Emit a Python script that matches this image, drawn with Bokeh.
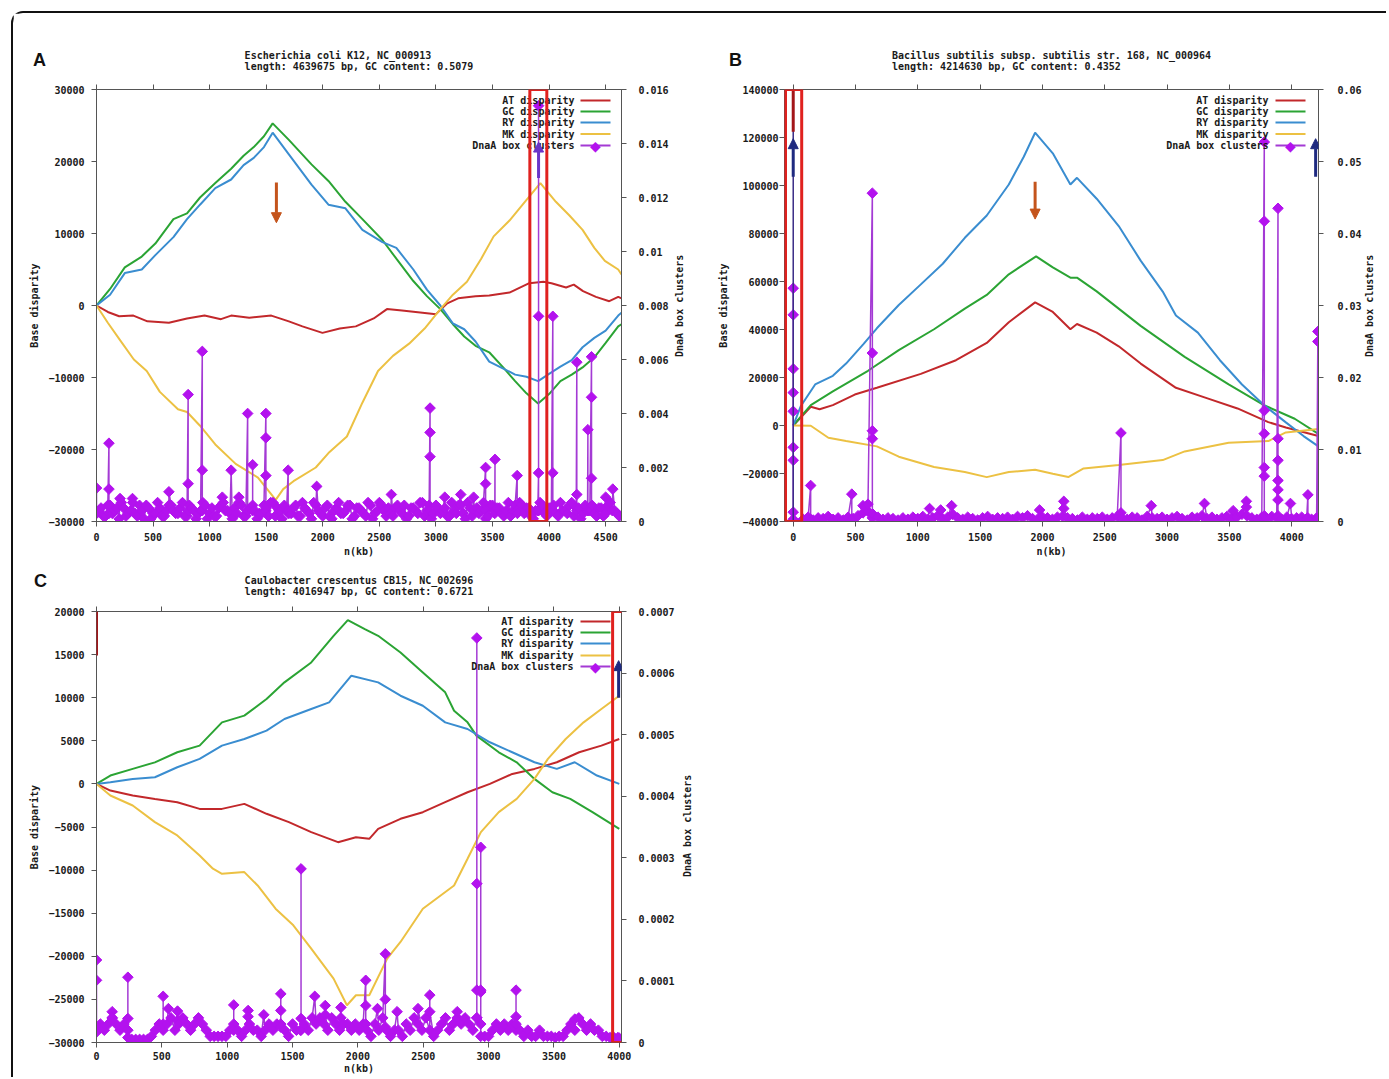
import numpy as np
from bokeh.plotting import figure
from bokeh.models import (Range1d, LinearAxis, Label, Arrow, NormalHead, BoxAnnotation, Span,
                          FixedTicker, BasicTickFormatter, CustomJSTickFormatter, GridBox, Div)
from bokeh.embed import file_html
from bokeh.resources import INLINE

# ---------------- colours ----------------
C_AT, C_GC, C_RY, C_MK = "#c2282b", "#2ba434", "#3a8dd0", "#ecc143"
C_DL, C_DM = "#a43ad4", "#b312ee"
MONO = "DejaVu Sans Mono"
SERIES = ["AT disparity", "GC disparity", "RY disparity", "MK disparity", "DnaA box clusters"]
Y2_LABEL = "DnaA box clusters"

# ================= Panel A : E. coli =================
a_title = ["Escherichia coli K12, NC_000913", "length: 4639675 bp, GC content: 0.5079"]
a_xticks = [0, 500, 1000, 1500, 2000, 2500, 3000, 3500, 4000, 4500]
a_yticks = [-30000, -20000, -10000, 0, 10000, 20000, 30000]
a_y2ticks = [0, 0.002, 0.004, 0.006, 0.008, 0.01, 0.012, 0.014, 0.016]

a_gc_x = [0, 120, 250, 400, 520, 680, 800, 915, 1050, 1190, 1300, 1390, 1480, 1557, 1700, 1900, 2050, 2200,
          2350, 2527, 2650, 2800, 2920, 3039, 3150, 3250, 3350, 3471, 3600, 3700, 3800, 3903, 4000, 4100,
          4200, 4296, 4400, 4500, 4611, 4640]
a_gc_y = [0, 2300, 5300, 6800, 8600, 12000, 12800, 15000, 17000, 19000, 20800, 22000, 23500, 25300, 23000,
          19600, 17300, 14400, 12000, 9100, 6500, 3400, 1300, -500, -2600, -4300, -5600, -6500, -8700,
          -10500, -12200, -13600, -12300, -10500, -9600, -8600, -7200, -5200, -2900, -2600]
a_ry_x = a_gc_x
a_ry_y = [0, 1500, 4500, 5000, 7000, 9500, 12000, 14000, 16300, 17500, 19500, 20500, 22000, 24000, 21000,
          16800, 14000, 13500, 10500, 8800, 8000, 5000, 2200, 0, -2500, -3300, -5000, -7800, -8800, -9600,
          -9900, -10500, -9500, -8500, -7600, -5800, -4500, -3500, -1400, -1000]
a_at_x = [0, 100, 200, 326, 450, 640, 800, 955, 1100, 1190, 1350, 1545, 1700, 1820, 1997, 2150, 2292, 2450,
          2567, 2700, 2881, 3000, 3100, 3196, 3350, 3471, 3650, 3825, 3950, 4021, 4150, 4218, 4300, 4414,
          4532, 4611, 4640]
a_at_y = [0, -900, -1500, -1400, -2200, -2400, -1800, -1400, -1900, -1400, -1700, -1400, -2200, -2900,
          -3800, -3200, -2900, -1800, -500, -700, -1000, -1200, 300, 1000, 1300, 1400, 1800, 3100, 3300,
          3100, 2500, 2900, 2000, 1200, 600, 1200, 1000]
a_mk_x = [0, 100, 208, 330, 444, 560, 720, 800, 915, 1050, 1230, 1427, 1584, 1650, 1741, 1938, 2050, 2213,
          2350, 2488, 2620, 2763, 2900, 3039, 3150, 3274, 3400, 3510, 3650, 3786, 3923, 4060, 4180, 4296,
          4400, 4493, 4611, 4640]
a_mk_y = [0, -2400, -4800, -7500, -9100, -12000, -14400, -14800, -16700, -19300, -22000, -23900, -27000,
          -25500, -24400, -22500, -20500, -18200, -13500, -9100, -7000, -5300, -3200, -500, 1500, 3300,
          6500, 9600, 11800, 14400, 17000, 14400, 12500, 10500, 8000, 6200, 5000, 4300]
# DnaA box clusters: low dense band (units of 1e-4) and tall stems
a_band_x = list(range(0, 4601, 40))
a_band_y = [3, 5, 2, 6, 4, 1, 5, 3, 7, 2, 4, 6, 1, 3, 5, 2, 6, 4, 3, 7,
            2, 5, 1, 4, 6, 3, 2, 5, 7, 4, 1, 3, 6, 2, 5, 4, 3, 6, 2, 7,
            5, 1, 4, 3, 6, 2, 5, 3, 7, 4, 2, 6, 1, 5, 3, 4, 6, 2, 5, 3,
            7, 1, 4, 6, 2, 3, 5, 4, 6, 2, 5, 3, 7, 4, 1, 6, 3, 5, 2, 4,
            6, 3, 7, 2, 5, 4, 1, 6, 3, 5, 2, 7, 4, 3, 6, 5, 2, 4, 7, 3,
            5, 6, 2, 4, 3, 7, 5, 1, 6, 4, 3, 5, 2, 6, 4, 3]
a_band2_x = list(range(20, 4621, 40))
a_band2_y = [4, 2, 6, 3, 5, 7, 2, 4, 3, 6, 1, 5, 3, 7, 2, 4, 6, 3, 5, 2,
             6, 4, 3, 7, 1, 5, 2, 6, 4, 3, 5, 7, 2, 4, 6, 1, 3, 5, 7, 2,
             4, 6, 3, 5, 2, 7, 4, 1, 6, 3, 5, 2, 4, 7, 3, 6, 1, 5, 4, 2,
             6, 3, 7, 4, 5, 2, 6, 3, 1, 5, 4, 7, 2, 6, 3, 5, 4, 2, 7, 3,
             6, 1, 5, 4, 3, 7, 2, 6, 5, 3, 4, 2, 6, 7, 3, 5, 1, 4, 6, 2,
             5, 3, 7, 4, 6, 2, 5, 3, 4, 6, 2, 5, 3, 7, 4, 2]
a_stem_x = [0, 0, 110, 110, 110, 208, 318, 640, 810, 810, 810, 935, 935, 935, 1112, 1190, 1258, 1336, 1336,
            1380, 1380, 1497, 1497, 1497, 1497, 1694, 1694, 1946, 2606, 2948, 2948, 2948, 2948, 3078, 3219,
            3333, 3439, 3439, 3439, 3522, 3522, 3718, 3718, 3907, 3907, 3907, 3907, 4033, 4033, 4033, 4245,
            4245, 4245, 4343, 4343, 4375, 4375, 4375, 4375, 4500, 4563]
a_stem_y = [0.00124, 0.0003, 0.0029, 0.0012, 0.0003, 0.00085, 0.00085, 0.0011, 0.0047, 0.0014, 0.0004,
            0.0063, 0.0019, 0.0004, 0.0009, 0.0019, 0.0009, 0.0040, 0.0004, 0.0021, 0.0004, 0.0040, 0.0031,
            0.0017, 0.0004, 0.0019, 0.0004, 0.0013, 0.0010, 0.0042, 0.0033, 0.0024, 0.0004, 0.0009, 0.0010,
            0.0009, 0.0020, 0.0014, 0.0004, 0.0023, 0.0004, 0.0017, 0.0004, 0.0018, 0.0076, 0.0154, 0.0004,
            0.0076, 0.0018, 0.0004, 0.0059, 0.0010, 0.0004, 0.0034, 0.0004, 0.0061, 0.0046, 0.0016, 0.0004,
            0.0009, 0.0012]

# ================= Panel B : B. subtilis =================
b_title = ["Bacillus subtilis subsp. subtilis str. 168, NC_000964", "length: 4214630 bp, GC content: 0.4352"]
b_xticks = [0, 500, 1000, 1500, 2000, 2500, 3000, 3500, 4000]
b_yticks = [-40000, -20000, 0, 20000, 40000, 60000, 80000, 100000, 120000, 140000]
b_y2ticks = [0, 0.01, 0.02, 0.03, 0.04, 0.05, 0.06]

b_ry_x = [0, 60, 176, 318, 424, 565, 671, 847, 1024, 1200, 1377, 1553, 1730, 1850, 1941, 2083, 2224, 2277,
          2435, 2612, 2788, 2965, 3071, 3247, 3424, 3601, 3777, 3953, 4095, 4214]
b_ry_y = [0, 8000, 17100, 20700, 25800, 34000, 40500, 50200, 58800, 67400, 78200, 87500, 100400, 112000,
          122000, 113400, 100400, 103200, 94500, 83100, 68700, 55800, 45800, 38700, 27200, 17100, 8500,
          1300, -4400, -8700]
b_gc_x = [0, 141, 318, 600, 847, 1130, 1377, 1553, 1730, 1949, 2083, 2224, 2277, 2435, 2788, 3141, 3494,
          3777, 4024, 4214]
b_gc_y = [0, 8500, 14200, 22800, 31400, 40100, 48700, 54400, 63000, 70500, 65900, 61600, 61600, 55900,
          41500, 28600, 17100, 8500, 2800, -3500]
b_at_x = [0, 141, 212, 318, 494, 671, 1024, 1306, 1553, 1730, 1941, 2083, 2224, 2277, 2435, 2612, 2788,
          3071, 3318, 3565, 3812, 3953, 4214]
b_at_y = [0, 7800, 6800, 8500, 12900, 15700, 21500, 27200, 34400, 43000, 51300, 47300, 40100, 42300,
          38700, 33000, 25800, 15700, 11400, 7100, 1400, -800, -4400]
b_mk_x = [0, 141, 282, 424, 671, 847, 1130, 1377, 1553, 1730, 1941, 2083, 2207, 2330, 2612, 2965, 3141,
          3494, 3812, 3953, 4214]
b_mk_y = [0, -100, -5100, -6500, -8700, -13000, -17300, -19400, -21500, -19400, -18400, -20100, -21500,
          -17900, -16500, -14400, -10800, -7200, -6500, -2900, -1500]
b_band_x = list(range(80, 4201, 40))
b_band_y = [3, 6, 2, 5, 4, 7, 3, 5, 2, 6,
            4, 8, 12, 14, 10, 6, 3, 5, 4, 2,
            5, 3, 6, 4, 7, 3, 5, 8, 4, 6,
            10, 5, 3, 6, 4, 2, 5, 7, 3, 5,
            4, 6, 3, 7, 5, 8, 4, 3, 6, 5,
            3, 6, 7, 5, 4, 2, 6, 3, 5, 4,
            6, 3, 5, 7, 4, 3, 6, 5, 2, 7,
            5, 4, 6, 3, 5, 7, 4, 2, 6, 5,
            8, 4, 6, 3, 5, 7, 4, 6, 10, 8,
            5, 3, 6, 4, 7, 5, 3, 6, 4, 5,
            6, 4, 3, 5]
b_stem_x = [0, 0, 0, 0, 0, 0, 0, 0, 0, 140, 140, 470, 470, 560, 600, 635, 635, 635, 635, 635, 1094, 1183,
            1271, 1977, 2171, 2171, 2630, 2630, 2873, 3300, 3530, 3636, 3636, 3780, 3780, 3780, 3780, 3780,
            3780, 3780, 3890, 3890, 3890, 3890, 3890, 3890, 3890, 3990, 4130, 4130, 4210, 4210, 4210]
b_stem_y = [0.0013, 0.0085, 0.0103, 0.0153, 0.0179, 0.0212, 0.0287, 0.0324, 0.0003, 0.0050, 0.0003,
            0.0038, 0.0003, 0.0022, 0.0024, 0.0456, 0.0234, 0.0126, 0.0115, 0.0005, 0.0018, 0.0016, 0.0022,
            0.0016, 0.0028, 0.0018, 0.0123, 0.0012, 0.0022, 0.0025, 0.0015, 0.0028, 0.0020, 0.0527, 0.0417,
            0.0154, 0.0122, 0.0075, 0.0063, 0.0008, 0.0435, 0.0115, 0.0085, 0.0057, 0.0044, 0.0030, 0.0008,
            0.0025, 0.0037, 0.0005, 0.0264, 0.0250, 0.0003]

# ================= Panel C : C. crescentus =================
c_title = ["Caulobacter crescentus CB15, NC_002696", "length: 4016947 bp, GC content: 0.6721"]
c_xticks = [0, 500, 1000, 1500, 2000, 2500, 3000, 3500, 4000]
c_yticks = [-30000, -25000, -20000, -15000, -10000, -5000, 0, 5000, 10000, 15000, 20000]
c_y2ticks = [0, 0.0001, 0.0002, 0.0003, 0.0004, 0.0005, 0.0006, 0.0007]

c_gc_x = [0, 106, 277, 447, 618, 789, 960, 1131, 1301, 1438, 1643, 1814, 1923, 2053, 2155, 2326, 2497, 2668,
          2736, 2839, 2907, 3078, 3215, 3351, 3488, 3625, 3795, 4000]
c_gc_y = [0, 970, 1740, 2500, 3670, 4440, 7140, 7920, 9850, 11780, 14090, 17180, 19000, 17950, 17180, 15250,
          12930, 10620, 8490, 7140, 5600, 3670, 2500, 580, -970, -1740, -3280, -5210]
c_ry_x = [0, 106, 277, 447, 618, 789, 960, 1131, 1301, 1438, 1643, 1780, 1950, 2155, 2326, 2497, 2668, 2839,
          3010, 3181, 3351, 3522, 3659, 3829, 4000]
c_ry_y = [0, 190, 580, 770, 1930, 2900, 4440, 5210, 6180, 7530, 8690, 9460, 12550, 11780, 10230, 9070, 7140,
          6370, 4830, 3670, 2510, 1740, 2510, 970, 0]
c_at_x = [0, 106, 277, 447, 618, 789, 960, 1131, 1301, 1472, 1643, 1848, 1985, 2087, 2155, 2326, 2497, 2668,
          2839, 3010, 3181, 3351, 3522, 3693, 3863, 4000]
c_at_y = [0, -770, -1350, -1740, -2120, -2900, -2900, -2320, -3470, -4440, -5600, -6760, -6180, -6370, -5210,
          -4050, -3280, -2120, -970, 0, 1160, 1740, 2510, 3670, 4440, 5210]
c_mk_x = [0, 106, 277, 447, 618, 789, 891, 960, 1131, 1233, 1370, 1506, 1643, 1814, 1916, 1985, 2087, 2224,
          2326, 2497, 2736, 2839, 2941, 3078, 3215, 3351, 3454, 3590, 3727, 3863, 4000]
c_mk_y = [0, -1350, -2510, -4440, -5980, -8300, -9840, -10430, -10230, -11780, -14480, -16410, -19110,
          -22590, -25680, -24520, -24520, -20270, -18340, -14480, -11780, -8690, -5600, -3280, -1740, 580,
          2900, 5210, 7140, 8690, 10230]
c_band_x = list(range(0, 3991, 30))
c_band_y = [2, 3, 2, 3, 4, 3, 2, 3, 2,
            0.5, 0.5, 0.5, 0.5, 0.5,
            1, 2, 3, 2, 3, 4, 2, 3, 4, 3, 2, 3, 4, 3,
            2, 1, 1, 1, 1, 1,
            2, 3, 2, 1, 2, 3, 2, 2, 1, 2, 3, 2, 3,
            3, 2, 1, 3, 2, 2, 3, 2, 4, 3,
            4, 3, 2, 4, 3, 2, 3, 3, 2, 3,
            2, 3, 2, 1, 3, 2, 4, 2, 1, 2,
            2, 1, 3, 2, 4, 3, 2, 4, 2, 1,
            2, 3, 4, 2, 3, 4, 3, 4, 3, 2,
            4, 3, 1, 1, 2, 3, 2, 3,
            2, 3, 2, 2, 1, 2, 1, 1, 2, 1,
            1, 1, 0.8, 1, 1, 2, 3, 2, 4, 3,
            2, 3, 2, 2, 1, 1, 0.8, 0.8, 0.8]
c_stem_x = [0, 0, 0, 120, 120, 240, 240, 240, 510, 510, 550, 620, 620, 1050, 1050, 1160, 1160, 1280, 1410,
            1410, 1410, 1565, 1565, 1565, 1670, 1750, 1750, 1870, 1870, 2060, 2060, 2060, 2150, 2210, 2210,
            2210, 2300, 2460, 2550, 2550, 2760, 2910, 2910, 2910, 2910, 2940, 2940, 2940, 2940, 3210, 3210,
            3210, 3660, 4000]
c_stem_y = [0.000134, 0.000101, 0.000017, 0.00005, 0.00004, 0.000106, 0.000039, 0.000008, 0.000075, 0.00003,
            0.000055, 0.000051, 0.000035, 0.000061, 0.00002, 0.000052, 0.000042, 0.000045, 0.000079,
            0.000052, 0.000025, 0.000039, 0.000282, 0.00002, 0.000075, 0.00006, 0.000045, 0.000057, 0.00004,
            0.000101, 0.00006, 0.00003, 0.000055, 0.000144, 0.00007, 0.000025, 0.00005, 0.000055, 0.000077,
            0.00005, 0.00005, 0.000085, 0.000258, 0.000657, 0.00004, 0.000082, 0.000317, 0.000085, 0.00001,
            0.000042, 0.000085, 0.00003, 0.000038, 0.000007]


def merge(bands, scale, sx, sy):
    xs = [np.array(bx, float) for bx, _ in bands] + [np.array(sx, float)]
    ys = [np.array(by, float) * scale for _, by in bands] + [np.array(sy, float)]
    x = np.concatenate(xs)
    y = np.concatenate(ys)
    order = np.argsort(x, kind="stable")
    return x[order], y[order]


def style_axis(ax, standoff, label_standoff):
    ax.axis_line_color = "#555555"
    ax.major_tick_line_color = "#555555"
    ax.major_tick_in = 0
    ax.major_tick_out = 5
    ax.minor_tick_line_color = None
    ax.major_label_text_font = MONO
    ax.major_label_text_font_style = "bold"
    ax.major_label_text_font_size = "10px"
    ax.major_label_text_color = "#1a1a1a"
    ax.major_label_standoff = standoff
    ax.axis_label_text_font = MONO
    ax.axis_label_text_font_style = "bold"
    ax.axis_label_text_font_size = "10px"
    ax.axis_label_text_color = "#1a1a1a"
    ax.axis_label_standoff = label_standoff


def panel(title, xr, yr, y2max, xticks, yticks, y2ticks, curves, dnaa, geom, stand, legend_geom, t_standoff):
    W, H, bl, br, bt, bb = geom
    p = figure(width=W, height=H, x_range=Range1d(*xr), y_range=Range1d(*yr),
               output_backend="svg", toolbar_location=None,
               min_border_left=bl, min_border_right=br, min_border_top=bt, min_border_bottom=bb,
               x_axis_label="n(kb)", y_axis_label="Base disparity")
    p.extra_y_ranges = {"y2": Range1d(0, y2max)}
    p.xgrid.visible = False
    p.ygrid.visible = False
    p.outline_line_color = "#555555"
    p.outline_line_width = 1
    p.background_fill_color = "white"
    p.border_fill_color = "white"

    p.xaxis.ticker = FixedTicker(ticks=xticks)
    p.yaxis.ticker = FixedTicker(ticks=yticks)
    p.yaxis.formatter = BasicTickFormatter(use_scientific=False)
    style_axis(p.xaxis[0], stand[0], stand[1])
    style_axis(p.yaxis[0], stand[2], stand[3])

    ax2 = LinearAxis(y_range_name="y2", ticker=FixedTicker(ticks=y2ticks),
                     formatter=CustomJSTickFormatter(
                         code="return tick === 0 ? '0' : tick.toFixed(5).replace(/0+$/, '');"))
    style_axis(ax2, stand[4], 0)
    p.add_layout(ax2, "right")

    axt = LinearAxis(ticker=FixedTicker(ticks=xticks))
    style_axis(axt, 4, 0)
    axt.major_label_text_font_size = "0px"
    axt.major_label_text_color = None
    p.add_layout(axt, "above")

    p.title.text = title[0] + "\n" + title[1]
    p.title.align = "center"
    p.title.text_font = MONO
    p.title.text_font_style = "bold"
    p.title.text_font_size = "10px"
    p.title.text_color = "#1a1a1a"
    p.title.standoff = t_standoff

    colors = [C_AT, C_GC, C_RY, C_MK]
    for (cx, cy), c in zip(curves, colors):
        p.line(cx, cy, line_color=c, line_width=2)
    dx, dy = dnaa
    p.line(dx, dy, y_range_name="y2", line_color=C_DL, line_width=1.5)
    p.scatter(dx, dy, y_range_name="y2", marker="square", angle=np.pi / 4, size=7.5,
              fill_color=C_DM, line_color=C_DM)

    # gnuplot-like key (text, then sample)
    tx, lx0, lx1, rows = legend_geom
    for name, c, yy in zip(SERIES, colors + [C_DL], rows):
        p.add_layout(Label(x=tx, y=yy, x_units="screen", y_units="screen", text=name,
                           text_font=MONO, text_font_style="bold", text_font_size="10px",
                           text_align="right", text_baseline="middle", text_color="#1a1a1a"))
        p.add_layout(Arrow(end=None, x_start=lx0, y_start=yy, x_end=lx1, y_end=yy,
                           start_units="screen", end_units="screen", line_color=c, line_width=2))
    p.add_layout(Label(x=(lx0 + lx1) / 2, y=rows[-1], x_units="screen", y_units="screen", text="\u25c6",
                       text_font="DejaVu Sans", text_font_size="14px", text_align="center",
                       text_baseline="middle", text_color=C_DM))
    return p


RED, BROWN, NAVY, PURP, DRED = "#e0211f", "#c4541c", "#1f2a80", "#6a35c8", "#a3161a"

pa = panel(a_title, (0, 4640), (-30000, 30000), 0.016, a_xticks, a_yticks, a_y2ticks,
           [(a_at_x, a_at_y), (a_gc_x, a_gc_y), (a_ry_x, a_ry_y), (a_mk_x, a_mk_y)],
           merge([(a_band_x, a_band_y), (a_band2_x, a_band2_y)], 1e-4, a_stem_x, a_stem_y),
           (687, 547, 83, 79, 76, 39), (6, 2, 7, 5, 12), (478, 484, 514, [421, 410, 399, 387.5, 376]), 26)
pa.add_layout(Arrow(end=NormalHead(size=10, fill_color=BROWN, line_color=BROWN), x_start=1590, y_start=17100,
                    x_end=1590, y_end=11500, line_color=BROWN, line_width=3))
pa.add_layout(Arrow(end=NormalHead(size=10, fill_color=PURP, line_color=PURP), x_start=3907, y_start=17700,
                    x_end=3907, y_end=22700, line_color=PURP, line_width=3))
pa.add_layout(BoxAnnotation(left=3830, right=3980, fill_alpha=0, line_color=RED, line_alpha=1, line_width=3))

pb = panel(b_title, (-70, 4215), (-40000, 140000), 0.06, b_xticks, b_yticks, b_y2ticks,
           [(b_at_x, b_at_y), (b_gc_x, b_gc_y), (b_ry_x, b_ry_y), (b_mk_x, b_mk_y)],
           merge([(b_band_x, b_band_y)], 1e-4, b_stem_x, b_stem_y),
           (678, 547, 84, 60, 76, 39), (6, 2, 1, 10, 14), (484, 491, 521, [421, 410, 399, 387.5, 376]), 26)
pb.add_layout(Span(location=0, dimension="height", line_color="#3a2c86", line_width=1.5))
pb.add_layout(Arrow(end=None, x_start=0, y_start=140000, x_end=0, y_end=122400, line_color=DRED, line_width=3))
for xa in (0, 4192):
    pb.add_layout(Arrow(end=NormalHead(size=10, fill_color=NAVY, line_color=NAVY), x_start=xa, y_start=103600,
                        x_end=xa, y_end=119500, line_color=NAVY, line_width=3))
pb.add_layout(Arrow(end=NormalHead(size=10, fill_color=BROWN, line_color=BROWN), x_start=1941, y_start=101600,
                    x_end=1941, y_end=86000, line_color=BROWN, line_width=3))
pb.add_layout(BoxAnnotation(left=-62, right=68, fill_alpha=0, line_color=RED, line_alpha=1, line_width=3))

pc = panel(c_title, (0, 4017), (-30000, 20000), 0.0007, c_xticks, c_yticks, c_y2ticks,
           [(c_at_x, c_at_y), (c_gc_x, c_gc_y), (c_ry_x, c_ry_y), (c_mk_x, c_mk_y)],
           merge([(c_band_x, c_band_y)], 1e-5, c_stem_x, c_stem_y),
           (687, 517, 83, 79, 51, 35), (4, 0, 7, 5, 12), (477, 484, 514, [421, 410, 399, 387, 376]), 20)
pc.add_layout(Arrow(end=None, x_start=0, y_start=20000, x_end=0, y_end=14900, line_color=DRED, line_width=3))
pc.add_layout(Arrow(end=NormalHead(size=10, fill_color=NAVY, line_color=NAVY), x_start=3995, y_start=10000,
                    x_end=3995, y_end=14300, line_color=NAVY, line_width=3))
pc.add_layout(BoxAnnotation(left=3949, right=4068, fill_alpha=0, line_color=RED, line_alpha=1, line_width=3))


def letter(t, top, left):
    return Div(text=t, width=30, height=24, margin=(top, 0, 0, left),
               styles={"font-family": "Liberation Sans, Arial, sans-serif", "font-weight": "bold",
                       "font-size": "18px", "color": "#111", "line-height": "20px"})


def y2label(top, left):
    # right-hand axis title, reading bottom-to-top like the left one
    return Div(text=Y2_LABEL, width=12, height=106, margin=(top, 0, 0, left),
               styles={"font-family": MONO, "font-weight": "bold", "font-size": "10px",
                       "color": "#1a1a1a", "line-height": "12px", "writing-mode": "vertical-rl",
                       "transform": "rotate(180deg)", "text-align": "center", "white-space": "nowrap"})


grid = GridBox(children=[(pa, 0, 0), (pb, 0, 1), (pc, 1, 0),
                         (letter("A", 37, 20), 0, 0), (letter("B", 37, 29), 0, 1), (letter("C", 11, 21), 1, 0),
                         (y2label(240, 661), 0, 0), (y2label(240, 664), 0, 1), (y2label(213, 669), 1, 0)],
               margin=(11, 0, 0, 11),
               styles={"border-left": "2px solid #111", "border-top": "2px solid #111",
                       "border-top-left-radius": "12px", "padding-right": "8px"})

open("out.html", "w").write(file_html(grid, INLINE))
